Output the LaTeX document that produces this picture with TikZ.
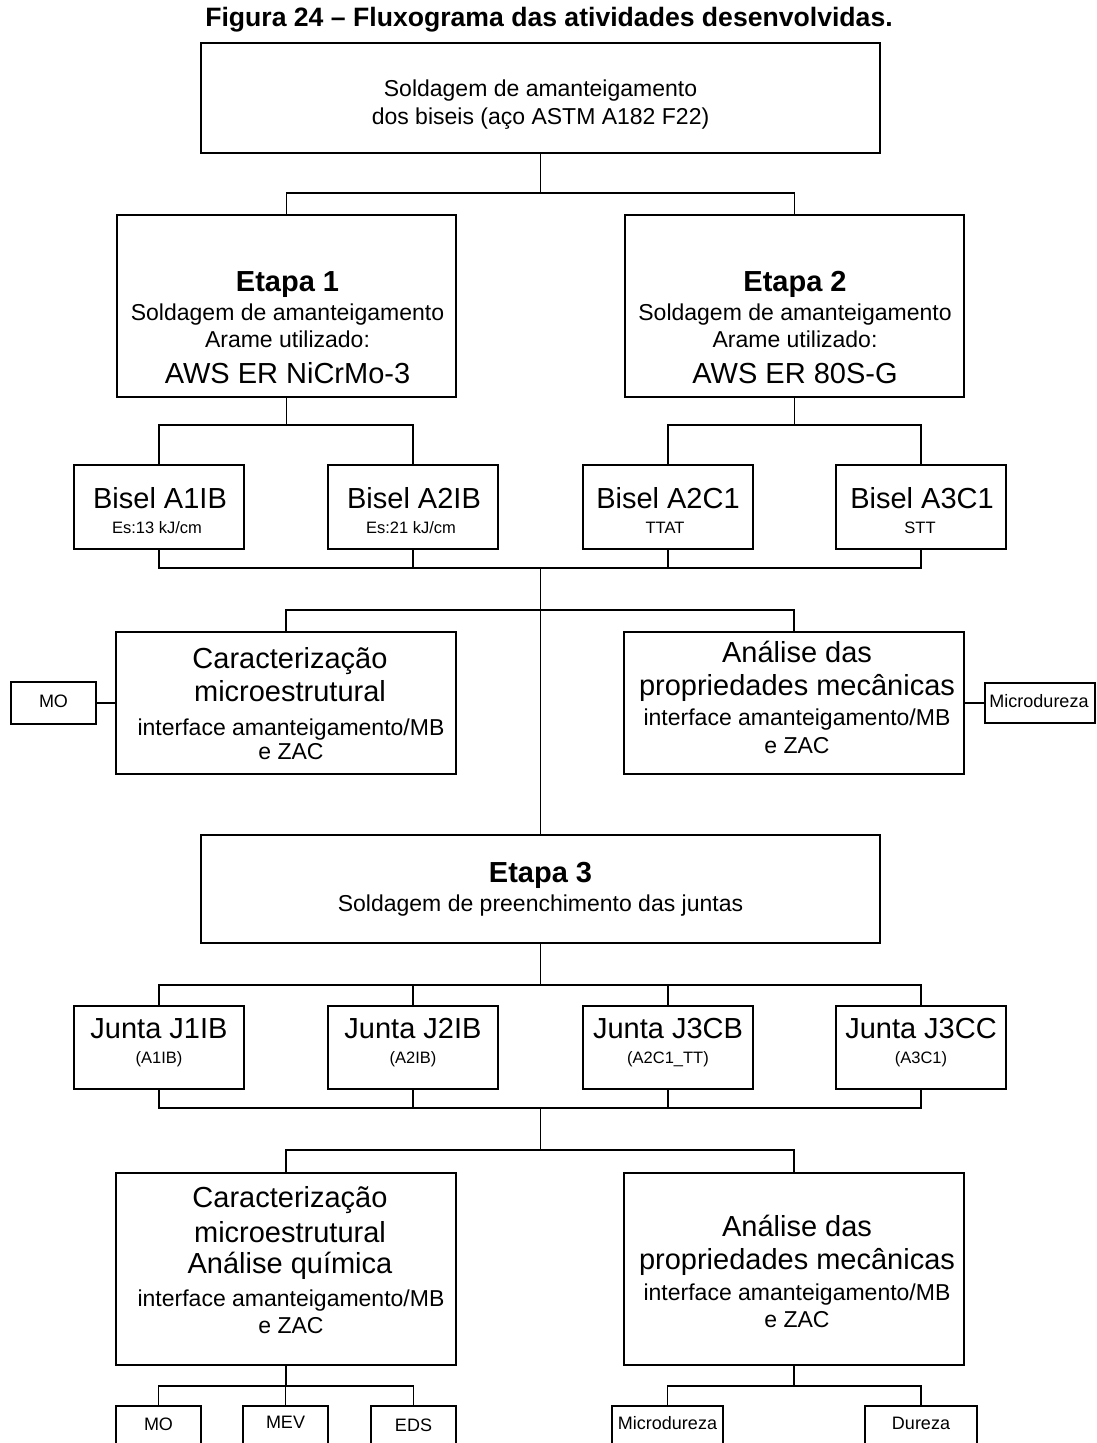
\documentclass[tikz,border=0pt]{standalone}
\usepackage{fontspec}
\setmainfont{Liberation Sans}
\newcommand\fTitle{\fontsize{26.6}{30}\selectfont\bfseries}
\newcommand\fBig{\fontsize{29}{33}\selectfont}
\newcommand\fMed{\fontsize{23}{27}\selectfont}
\newcommand\fSm{\fontsize{16.5}{19}\selectfont}
\newcommand\fSb{\fontsize{18}{21}\selectfont}
\begin{document}
\begin{tikzpicture}[x=1pt,y=-1pt,
  box/.style={draw, line width=1.4pt, inner sep=0pt, rectangle},
  conn/.style={line width=1.4pt},
  tb/.style={anchor=base, inner sep=0pt, font=\fBig},
  tbb/.style={anchor=base, inner sep=0pt, font=\fBig\bfseries},
  tm/.style={anchor=base, inner sep=0pt, font=\fMed},
  ts/.style={anchor=base, inner sep=0pt, font=\fSm},
  tsb/.style={anchor=base, inner sep=0pt, font=\fSb}]
\path[use as bounding box] (0,0) rectangle (1096,1443);
\clip (0,0) rectangle (1096,1443);

% ---------- boxes ----------
\node[box, minimum width=679, minimum height=110] (top) at (540.5,98) {};
\node[box, minimum width=339, minimum height=182] (e1) at (286.5,306) {};
\node[box, minimum width=339, minimum height=182] (e2) at (794.5,306) {};
\node[box, minimum width=170, minimum height=84] (b1) at (159,507) {};
\node[box, minimum width=170, minimum height=84] (b2) at (413,507) {};
\node[box, minimum width=170, minimum height=84] (b3) at (668,507) {};
\node[box, minimum width=170, minimum height=84] (b4) at (921,507) {};
\node[box, minimum width=340, minimum height=142] (c1) at (286,703) {};
\node[box, minimum width=340, minimum height=142] (a1) at (794,703) {};
\node[box, minimum width=85, minimum height=42] (mo1) at (53.5,703) {};
\node[box, minimum width=110, minimum height=40] (md1) at (1040,703) {};
\node[box, minimum width=679, minimum height=108] (e3) at (540.5,889) {};
\node[box, minimum width=170, minimum height=83] (j1) at (159,1047.5) {};
\node[box, minimum width=170, minimum height=83] (j2) at (413,1047.5) {};
\node[box, minimum width=170, minimum height=83] (j3) at (668,1047.5) {};
\node[box, minimum width=170, minimum height=83] (j4) at (921,1047.5) {};
\node[box, minimum width=340, minimum height=192] (c2) at (286,1269) {};
\node[box, minimum width=340, minimum height=192] (a2) at (794,1269) {};
\node[box, minimum width=85, minimum height=64] (mo2) at (158.5,1438) {};
\node[box, minimum width=85, minimum height=64] (mev) at (285.5,1438) {};
\node[box, minimum width=85, minimum height=64] (eds) at (413.5,1438) {};
\node[box, minimum width=111, minimum height=64] (md2) at (667.5,1438) {};
\node[box, minimum width=112, minimum height=64] (du) at (921,1438) {};

% ---------- connectors ----------
\coordinate (k1) at (540.5,193);
\draw[conn] (top.south) -- (k1);
\draw[conn] (e1.north) |- (k1) -| (e2.north);
\coordinate (k2) at (286.5,425);
\draw[conn] (e1.south) -- (k2);
\draw[conn] (b1.north) |- (k2) -| (b2.north);
\coordinate (k3) at (794.5,425);
\draw[conn] (e2.south) -- (k3);
\draw[conn] (b3.north) |- (k3) -| (b4.north);
\coordinate (k4) at (540.5,568);
\draw[conn] (b1.south) |- (k4) -| (b4.south);
\draw[conn] (b2.south) -- (b2.south |- k4);
\draw[conn] (b3.south) -- (b3.south |- k4);
\draw[conn] (k4) -- (e3.north);
\coordinate (k5) at (540.5,610);
\draw[conn] (c1.north) |- (k5) -| (a1.north);
\draw[conn] (mo1.east) -- (c1.west);
\draw[conn] (a1.east) -- (md1.west);
\coordinate (k6) at (540.5,985);
\draw[conn] (e3.south) -- (k6);
\draw[conn] (j1.north) |- (k6) -| (j4.north);
\draw[conn] (j2.north) -- (j2.north |- k6);
\draw[conn] (j3.north) -- (j3.north |- k6);
\coordinate (k7) at (540.5,1108);
\draw[conn] (j1.south) |- (k7) -| (j4.south);
\draw[conn] (j2.south) -- (j2.south |- k7);
\draw[conn] (j3.south) -- (j3.south |- k7);
\coordinate (k8) at (540.5,1150);
\draw[conn] (k7) -- (k8);
\draw[conn] (c2.north) |- (k8) -| (a2.north);
\coordinate (k9) at (286,1386);
\draw[conn] (c2.south) -- (k9);
\draw[conn] (mo2.north) |- (k9) -| (eds.north);
\draw[conn] (mev.north) -- (mev.north |- k9);
\coordinate (k10) at (794,1386);
\draw[conn] (a2.south) -- (k10);
\draw[conn] (md2.north) |- (k10) -| (du.north);

% ---------- texts ----------
\node[anchor=base, inner sep=0pt, font=\fTitle] (title) at (549,26) {Figura 24 – Fluxograma das atividades desenvolvidas.};

\node[tm] (top1) at (540.5,96) {Soldagem de amanteigamento};
\node[tm] (top2) at (540.5,124) {dos biseis (aço ASTM A182 F22)};

\node[tbb] (e1a) at (287.5,291) {Etapa 1};
\node[tm] (e1b) at (287.5,320) {Soldagem de amanteigamento};
\node[tm] (e1c) at (287.5,347) {Arame utilizado:};
\node[tb] (e1d) at (287.5,383) {AWS ER NiCrMo-3};

\node[tbb] (e2a) at (795,291) {Etapa 2};
\node[tm] (e2b) at (795,320) {Soldagem de amanteigamento};
\node[tm] (e2c) at (795,347) {Arame utilizado:};
\node[tb] (e2d) at (795,383) {AWS ER 80S-G};

\node[tb] (b1a) at (160,508) {Bisel A1IB};
\node[ts] (b1b) at (157,533) {Es:13 kJ/cm};
\node[tb] (b2a) at (414,508) {Bisel A2IB};
\node[ts] (b2b) at (411,533) {Es:21 kJ/cm};
\node[tb] (b3a) at (668,508) {Bisel A2C1};
\node[ts] (b3b) at (665,533) {TTAT};
\node[tb] (b4a) at (922,508) {Bisel A3C1};
\node[ts] (b4b) at (920,533) {STT};

\node[tb] (c1a) at (290,668) {Caracterização};
\node[tb] (c1b) at (290,701) {microestrutural};
\node[tm] (c1c) at (291,735) {interface amanteigamento/MB};
\node[tm] (c1d) at (291,759) {e ZAC};

\node[tb] (a1a) at (797,662) {Análise das};
\node[tb] (a1b) at (797,695) {propriedades mecânicas};
\node[tm] (a1c) at (797,725) {interface amanteigamento/MB};
\node[tm] (a1d) at (797,753) {e ZAC};

\node[tsb] (mo1t) at (53.5,707) {MO};
\node[tsb] (md1t) at (1039,707) {Microdureza};

\node[tbb] (e3a) at (540.5,882) {Etapa 3};
\node[tm] (e3b) at (540.5,911) {Soldagem de preenchimento das juntas};

\node[tb] (j1a) at (159,1038) {Junta J1IB};
\node[ts] (j1b) at (159,1063) {(A1IB)};
\node[tb] (j2a) at (413,1038) {Junta J2IB};
\node[ts] (j2b) at (413,1063) {(A2IB)};
\node[tb] (j3a) at (668,1038) {Junta J3CB};
\node[ts] (j3b) at (668,1063) {(A2C1\_TT)};
\node[tb] (j4a) at (921,1038) {Junta J3CC};
\node[ts] (j4b) at (921,1063) {(A3C1)};

\node[tb] (c2a) at (290,1207) {Caracterização};
\node[tb] (c2b) at (290,1242) {microestrutural};
\node[tb] (c2c) at (290,1273) {Análise química};
\node[tm] (c2d) at (291,1306) {interface amanteigamento/MB};
\node[tm] (c2e) at (291,1333) {e ZAC};

\node[tb] (a2a) at (797,1236) {Análise das};
\node[tb] (a2b) at (797,1269) {propriedades mecânicas};
\node[tm] (a2c) at (797,1300) {interface amanteigamento/MB};
\node[tm] (a2d) at (797,1327) {e ZAC};

\node[tsb] (mo2t) at (158.5,1430) {MO};
\node[tsb] (mevt) at (285.5,1428) {MEV};
\node[tsb] (edst) at (413.5,1431) {EDS};
\node[tsb] (md2t) at (667.5,1429) {Microdureza};
\node[tsb] (dut) at (921,1429) {Dureza};
\end{tikzpicture}
\end{document}
